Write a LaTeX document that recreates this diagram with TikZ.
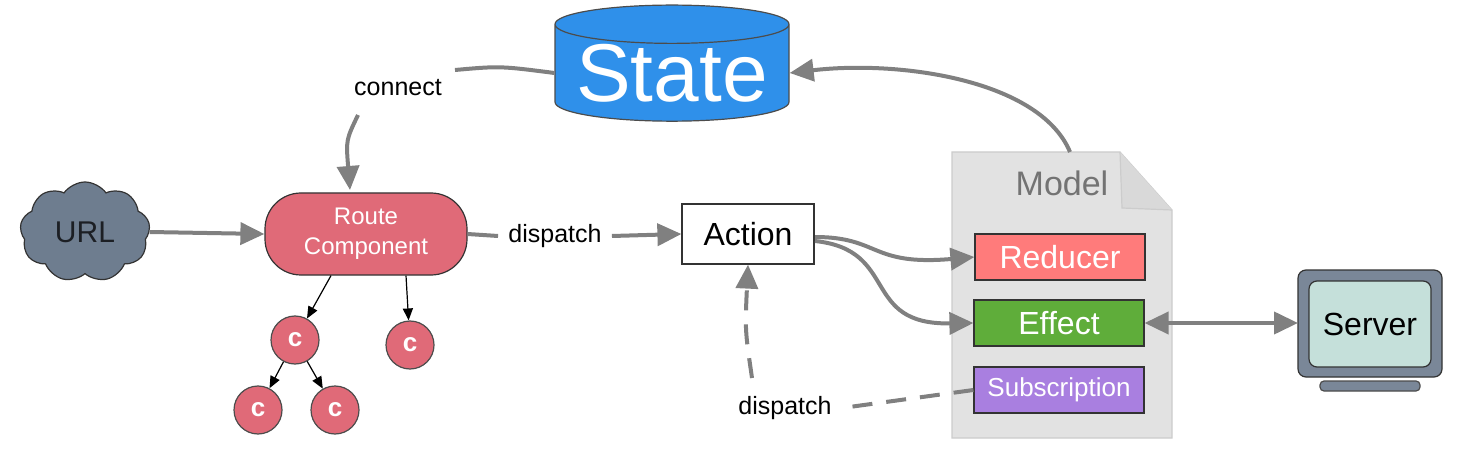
\documentclass[tikz,border=0pt]{standalone}
\usepackage{fontspec}
\setmainfont{Liberation Sans}
\usetikzlibrary{shapes.geometric,shapes.symbols,arrows.meta}
\definecolor{arr}{HTML}{808080}
\definecolor{stateblue}{HTML}{2F90EA}
\definecolor{routered}{HTML}{E06A78}
\definecolor{urlgray}{HTML}{6E7D8F}
\definecolor{modelgray}{HTML}{E2E2E2}
\definecolor{redu}{HTML}{FF7B7B}
\definecolor{eff}{HTML}{5FAD3A}
\definecolor{subs}{HTML}{A97FE0}
\definecolor{scrn}{HTML}{C5E0DA}
\definecolor{mon}{HTML}{7A8798}
\begin{document}
\begin{tikzpicture}[x=0.5pt,y=-0.5pt,
  tip/.style={Triangle[length=12pt,width=11pt]},
  flow/.style={draw=arr,line width=2pt,-{Triangle[length=12pt,width=11pt]}},
  thin/.style={draw=black,line width=0.6pt,-{Triangle[length=6pt,width=5pt]}},
  comp/.style={circle,draw=black!70,line width=0.6pt,fill=routered,minimum size=24pt,inner sep=0pt,text=white,font=\fontsize{13}{14}\selectfont\bfseries},
  part/.style={rectangle,draw=black!80,line width=0.6pt,minimum width=85pt,minimum height=23pt,inner sep=0pt,text=white,font=\fontsize{16}{18}\selectfont},
  lbl/.style={font=\fontsize{12.5}{14}\selectfont,inner sep=5pt}]
\useasboundingbox (0,0) rectangle (1482,470);
% State
\node[cylinder,shape border rotate=90,aspect=0.2,draw=black!70,line width=0.6pt,fill=stateblue,minimum width=117pt,minimum height=49pt,text=white,font=\fontsize{41}{42}\selectfont,inner sep=0pt] (state) at (672,73) {State};
% URL
\node[cloud,cloud puffs=9,cloud puff arc=110,aspect=1.2,draw=black!80,line width=0.6pt,fill=urlgray,minimum width=65pt,minimum height=50pt,text=black!75!urlgray,font=\fontsize{15}{16}\selectfont] (url) at (85,232) {URL};
% Route
\node[rectangle,rounded corners=18pt,draw=black!80,line width=0.6pt,fill=routered,minimum width=101pt,minimum height=41pt,text=white,align=center,font=\fontsize{12}{15}\selectfont] (route) at (366,234) {Route\\Component};
% Action
\node[rectangle,draw=black!80,line width=0.6pt,fill=white,minimum width=66pt,minimum height=30pt,font=\fontsize{16}{18}\selectfont] (action) at (748,234) {Action};
% components
\node[comp] (c1) at (295,340) {c};
\node[comp] (c2) at (410,345) {c};
\node[comp] (c3) at (258,410) {c};
\node[comp] (c4) at (335,410) {c};
% Model document
\draw[draw=black!20,line width=0.6pt,fill=modelgray] (952,152) -- (1120,152) -- (1172,210) -- (1172,438) -- (952,438) -- cycle;
\draw[draw=black!20,line width=0.6pt,fill=black!15] (1120,152) -- (1122,208) -- (1172,210);
\node[text=black!55,font=\fontsize{17}{18}\selectfont] (model) at (1062,183) {Model};
\coordinate (modeltop) at (1070,152);
\node[part,fill=redu] (reducer) at (1060,257) {Reducer};
\node[part,fill=eff] (effect) at (1059,323) {Effect};
\node[part,fill=subs,font=\fontsize{13}{14}\selectfont] (subscr) at (1059,390) {Subscription};
% Server
\draw[draw=black!80,line width=0.6pt,fill=mon,rounded corners=4pt] (1298,270) rectangle (1442,377);
\node[rectangle,rounded corners=4pt,draw=black!80,line width=0.6pt,fill=scrn,minimum width=61pt,minimum height=43pt,font=\fontsize{16}{18}\selectfont] (server) at (1370,324) {Server};
\draw[draw=black!70,line width=0.6pt,fill=mon,rounded corners=2pt] (1320,381) rectangle (1420,391);
% labels
\node[lbl] (connect) at (398,88) {connect};
\node[lbl] (disp1) at (555,236) {dispatch};
\node[lbl] (disp2) at (785,408) {dispatch};
% connectors
\draw[draw=arr,line width=2pt] (state.west) .. controls (500,66) .. (455,70);
\draw[flow] (358,115) .. controls (346,140) .. (350,190);
\draw[flow] (url.east) -- (route.west);
\draw[draw=arr,line width=2pt] (route.east) -- (disp1.west);
\draw[flow] (disp1.east) -- (action.west);
\draw[thin] (route.south) ++(-35,0) -- (c1);
\draw[thin] ([xshift=20]route.south) -- (c2);
\draw[thin] (c1) -- (c3);
\draw[thin] (c1) -- (c4);
\draw[flow] (815,237) .. controls (880,237) and (870,266) .. (reducer.west);
\draw[flow] (815,241) .. controls (900,250) and (860,325) .. (effect.west);
\draw[draw=arr,line width=2pt,{Triangle[length=12pt,width=11pt]}-{Triangle[length=12pt,width=11pt]}] (effect.east) -- (1298,323);
\draw[flow] (modeltop) .. controls (1040,80) and (900,60) .. (state.east);
\draw[draw=arr,line width=2pt,dash pattern=on 10pt off 7pt] (subscr.west) -- (disp2.east);
\draw[flow,dash pattern=on 10pt off 7pt] (752,378) .. controls (745,330) .. (action.south);
\end{tikzpicture}
\end{document}
